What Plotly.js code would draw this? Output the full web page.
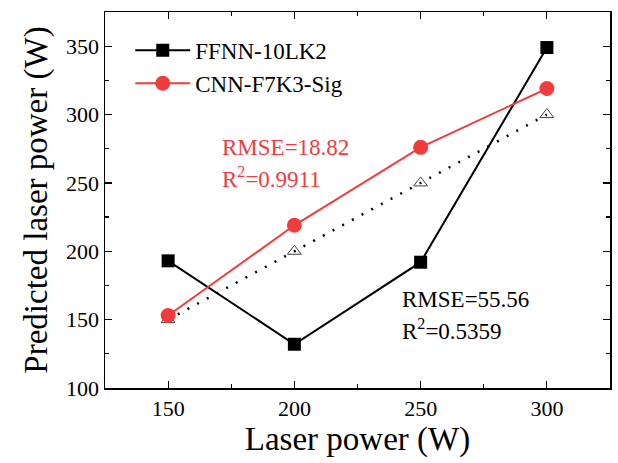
<!DOCTYPE html>
<html><head><meta charset="utf-8">
<script src="https://cdn.plot.ly/plotly-3.0.1.min.js"></script>
<style>body{margin:0;background:#fff}#c{width:618px;height:463px}</style>
</head><body><div id="c"></div>
<script>
const laserPower = [150, 200, 250, 300];
const ffnnPred = [193, 132, 192, 349];
const cnnPred = [153, 219, 276, 319];
const idealPred = [150, 200, 250, 300];
const xTicks = [150, 200, 250, 300];
const yTicks = [100, 150, 200, 250, 300, 350];

const font = 'Liberation Serif, Times New Roman, serif';
const traces = [
  {x: laserPower, y: idealPred, mode: 'lines+markers', showlegend: false,
   line: {color: '#000', width: 2.5, dash: '2px,9px'},
   marker: {symbol: 'triangle-up-open', size: 12, color: '#444', line: {width: 1}}},
  {x: laserPower, y: ffnnPred, mode: 'lines+markers', name: 'FFNN-10LK2',
   line: {color: '#000', width: 2},
   marker: {symbol: 'square', size: 13, color: '#000'}},
  {x: laserPower, y: cnnPred, mode: 'lines+markers', name: 'CNN-F7K3-Sig',
   line: {color: '#f03c3c', width: 2},
   marker: {symbol: 'circle', size: 15, color: '#f03c3c'}}
];
const axisCommon = {showline: true, linecolor: '#000', linewidth: 1.5, mirror: 'ticks',
  ticks: 'inside', ticklen: 7, tickwidth: 1.2, tickcolor: '#000', showgrid: false, zeroline: false,
  tickfont: {family: font, size: 22, color: '#000'},
  minor: {ticks: 'inside', ticklen: 4, tickcolor: '#000', tickwidth: 1.2}};
const layout = {
  width: 618, height: 463,
  margin: {l: 105, r: 8, t: 12, b: 75},
  paper_bgcolor: '#fff', plot_bgcolor: '#fff',
  xaxis: Object.assign({}, axisCommon, {range: [125, 325], tickvals: xTicks, ticktext: xTicks.map(String),
    minor: Object.assign({}, axisCommon.minor, {dtick: 25, tick0: 125}),
    title: {text: 'Laser power (W)', font: {family: font, size: 33, color: '#000'}, standoff: 6}}),
  yaxis: Object.assign({}, axisCommon, {range: [100, 375], tickvals: yTicks, ticktext: yTicks.map(String),
    minor: Object.assign({}, axisCommon.minor, {dtick: 25, tick0: 100}),
    title: {text: 'Predicted laser power (W)', font: {family: font, size: 33, color: '#000'}, standoff: 8}}),
  legend: {x: 0.05, y: 0.955, xanchor: 'left', yanchor: 'top', bgcolor: 'rgba(0,0,0,0)',
    font: {family: font, size: 23, color: '#000'}, tracegroupgap: 0, itemwidth: 55},
  annotations: [
    {xref: 'paper', yref: 'paper', x: 0.228, y: 0.64, xanchor: 'left', yanchor: 'middle', showarrow: false,
     text: 'RMSE=18.82', font: {family: font, size: 23, color: '#f03c3c'}},
    {xref: 'paper', yref: 'paper', x: 0.228, y: 0.56, xanchor: 'left', yanchor: 'middle', showarrow: false,
     text: 'R<sup>2</sup>=0.9911', font: {family: font, size: 23, color: '#f03c3c'}},
    {xref: 'paper', yref: 'paper', x: 0.585, y: 0.235, xanchor: 'left', yanchor: 'middle', showarrow: false,
     text: 'RMSE=55.56', font: {family: font, size: 23, color: '#000'}},
    {xref: 'paper', yref: 'paper', x: 0.585, y: 0.155, xanchor: 'left', yanchor: 'middle', showarrow: false,
     text: 'R<sup>2</sup>=0.5359', font: {family: font, size: 23, color: '#000'}}
  ]
};
Plotly.newPlot('c', traces, layout, {displayModeBar: false, staticPlot: true});
</script></body></html>
